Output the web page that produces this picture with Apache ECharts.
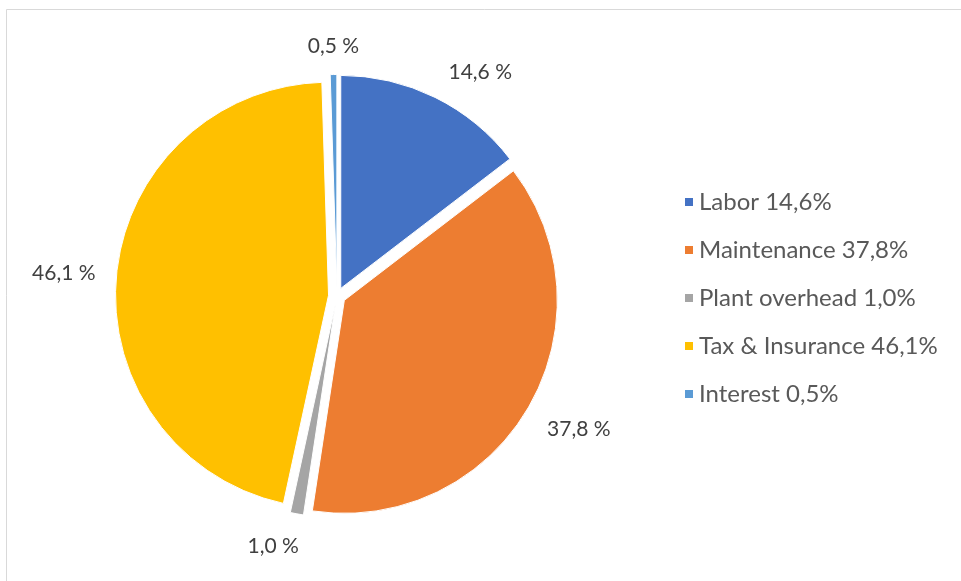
<!DOCTYPE html>
<html>
<head>
<meta charset="utf-8">
<script src="https://cdn.jsdelivr.net/npm/echarts@6/dist/echarts.min.js"></script>
<style>
  html, body { margin: 0; padding: 0; background: #ffffff; }
  #chart { width: 961px; height: 581px; }
</style>
</head>
<body>
<div id="chart"></div>
<script>
// Annual cost breakdown (share of total, %)
const categories = ['Labor', 'Maintenance', 'Plant overhead', 'Tax & Insurance', 'Interest'];
const shares = [14.6, 37.8, 1.0, 46.1, 0.5];
const colors = ['#4472C4', '#ED7D31', '#A5A5A5', '#FFC000', '#5B9BD5'];

const fmt = v => v.toFixed(1).replace('.', ',');

// small per-slice nudges for the outside value labels
const labelTweaks = [
  { label: { distanceToLabelLine: 1 }, labelLine: { length: 28 } },
  { label: { distanceToLabelLine: -15 }, labelLine: { length: 40 } },
  { label: { distanceToLabelLine: -8 }, labelLine: { length: 33 } },
  { label: { distanceToLabelLine: -7 }, labelLine: { length: 28 } },
  { label: { distanceToLabelLine: -26 }, labelLine: { length: 28 } }
];

const data = categories.map((name, i) => ({
  name: name,
  value: shares[i],
  selected: true,
  itemStyle: { color: colors[i] },
  label: labelTweaks[i].label,
  labelLine: labelTweaks[i].labelLine
}));

const chart = echarts.init(document.getElementById('chart'), null, { renderer: 'canvas' });
chart.setOption({
  animation: false,
  backgroundColor: '#ffffff',
  graphic: [{
    type: 'rect',
    shape: { x: 6.5, y: 9.5, width: 1200, height: 800 },
    style: { fill: 'none', stroke: '#d9d9d9', lineWidth: 1 },
    silent: true
  }],
  legend: {
    orient: 'vertical',
    left: 678,
    top: 185,
    itemWidth: 10,
    itemHeight: 10,
    itemGap: 24,
    icon: 'rect',
    selectedMode: false,
    formatter: name => name + ' ' + fmt(shares[categories.indexOf(name)]) + '%',
    textStyle: {
      fontFamily: 'Lato',
      fontSize: 24,
      lineHeight: 24,
      color: '#595959'
    }
  },
  series: [{
    type: 'pie',
    center: [337, 296],
    radius: 213,
    startAngle: 90,
    clockwise: true,
    selectedMode: 'multiple',
    selectedOffset: 8.5,
    avoidLabelOverlap: false,
    emphasis: { disabled: true },
    itemStyle: { borderColor: '#ffffff', borderWidth: 1 },
    label: {
      show: true,
      position: 'outside',
      formatter: p => fmt(p.value) + ' %',
      fontFamily: 'Lato',
      fontSize: 21,
      color: '#404040'
    },
    labelLine: { show: false, length: 28, length2: 0 },
    data: data
  }]
});
</script>
</body>
</html>
